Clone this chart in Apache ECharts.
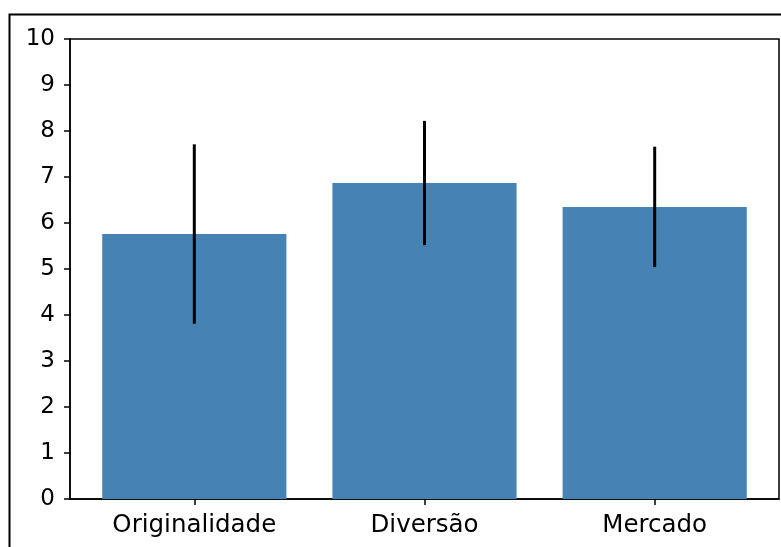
<!DOCTYPE html>
<html>
<head>
<meta charset="utf-8">
<script src="https://cdn.jsdelivr.net/npm/echarts@6/dist/echarts.min.js"></script>
<style>
html,body{margin:0;padding:0;background:#fff;}
#c{width:781px;height:547px;}
</style>
</head>
<body>
<div id="c"></div>
<script>
const categories = ['Originalidade', 'Diversão', 'Mercado'];
const means = [5.76, 6.87, 6.35];
const errors = [1.95, 1.35, 1.31];
const yTicks = [0, 1, 2, 3, 4, 5, 6, 7, 8, 9, 10];

const chart = echarts.init(document.getElementById('c'), null, {renderer: 'canvas'});
const font = 'DejaVu Sans';
const barData = means.map((m, i) => [i, m]);
const errData = means.map((m, i) => [i, m - errors[i], m + errors[i]]);
const tickPos = categories.map((c, i) => i);

chart.setOption({
  animation: false,
  backgroundColor: '#fff',
  graphic: [{
    type: 'rect',
    shape: {x: 9.5, y: 14.5, width: 900, height: 700},
    style: {fill: 'none', stroke: '#000', lineWidth: 2},
    silent: true
  }],
  grid: {
    left: 70, top: 39, right: 2, bottom: 48,
    show: true, borderColor: '#000', borderWidth: 1.5, backgroundColor: 'transparent'
  },
  xAxis: {
    type: 'value', min: -0.54, max: 2.54,
    splitLine: {show: false},
    axisLine: {show: true, onZero: false, lineStyle: {color: '#000', width: 1.5}},
    axisTick: {show: true, customValues: tickPos, length: 6, lineStyle: {color: '#000', width: 1.5}},
    axisLabel: {
      show: true, customValues: tickPos, margin: 14,
      color: '#000', fontFamily: font, fontSize: 24.5,
      formatter: v => categories[Math.round(v)]
    }
  },
  yAxis: {
    type: 'value', min: yTicks[0], max: yTicks[yTicks.length - 1], interval: 1,
    splitLine: {show: false},
    axisLine: {show: true, onZero: false, lineStyle: {color: '#000', width: 1.5}},
    axisTick: {show: true, length: 6, lineStyle: {color: '#000', width: 1.5}},
    axisLabel: {color: '#000', fontFamily: font, fontSize: 23, margin: 15}
  },
  series: [{
    type: 'custom',
    data: barData,
    renderItem: function (params, api) {
      const i = api.value(0), v = api.value(1);
      const p0 = api.coord([i - 0.4, v]);
      const p1 = api.coord([i + 0.4, 0]);
      return {
        type: 'rect',
        shape: {x: p0[0], y: p0[1], width: p1[0] - p0[0], height: p1[1] - p0[1]},
        style: {fill: '#4682B4'}
      };
    },
    encode: {x: 0, y: 1}
  }, {
    type: 'custom',
    data: errData,
    renderItem: function (params, api) {
      const i = api.value(0);
      const lo = api.coord([i, api.value(1)]);
      const hi = api.coord([i, api.value(2)]);
      return {
        type: 'line',
        shape: {x1: lo[0], y1: lo[1], x2: hi[0], y2: hi[1]},
        style: {stroke: '#000', lineWidth: 3}
      };
    },
    encode: {x: 0, y: [1, 2]},
    z: 5
  }]
});
</script>
</body>
</html>
